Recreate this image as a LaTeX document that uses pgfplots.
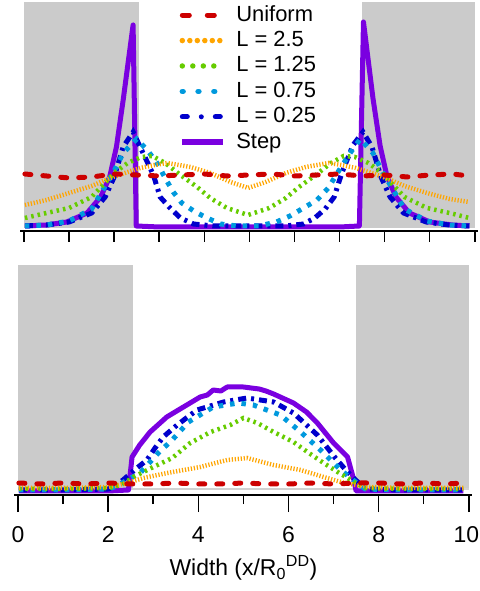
\documentclass[border=0pt]{standalone}
\usepackage{pgfplots}
\pgfplotsset{compat=1.18}
\usepackage{fontspec}
\setmainfont{Liberation Sans}
\definecolor{cUni}{HTML}{CC0000}
\definecolor{cLa}{HTML}{FFA500}
\definecolor{cLb}{HTML}{66CC00}
\definecolor{cLc}{HTML}{0099DD}
\definecolor{cLd}{HTML}{0000CC}
\definecolor{cStep}{HTML}{7A00E0}
\definecolor{shade}{HTML}{CBCBCB}

\pgfplotsset{
  uni/.style={cUni, line width=5bp, line cap=round, dash pattern=on 6bp off 12bp},
  lA/.style={cLa, line width=4.5bp, dash pattern=on 1.2bp off 1.8bp},
  lB/.style={cLb, line width=4.5bp, dash pattern=on 2.5bp off 4bp},
  lC/.style={cLc, line width=5bp, dash pattern=on 4.5bp off 7bp},
  lD/.style={cLd, line width=5bp, dash pattern=on 8bp off 5bp on 3bp off 5bp},
  stp/.style={cStep, line width=5bp, line join=round},
  base/.style={
    scale only axis, width=458bp,
    xmin=-0.08, xmax=10.08, ymin=0,
    axis x line*=bottom, axis y line=none,
    axis line style={-, line width=1.5bp},
    tick align=outside,
    tick style={line width=1.5bp, black},
    every tick label/.append style={font=\fontsize{23}{27}\selectfont},
    /pgf/number format/assume math mode=true,
    legend image code/.code={\draw[#1] (2bp,0bp) -- (43bp,0bp);},
  },
}

\begin{document}
\begin{tikzpicture}[x=1bp,y=1bp]
\useasboundingbox (0,0) rectangle (480,591);

% ---- top panel ----
\begin{axis}[base, at={(20.4bp,360bp)}, anchor=south west,
  height=231bp, ymax=231,
  xtick={0,...,10}, xticklabels={},
  major tick length=11bp,
  legend cell align=left,
  legend style={at={(0.34,0.987)}, anchor=north west, draw=none, fill=none,
    font=\fontsize{22}{26}\selectfont, row sep=5.4bp,
    nodes={inner sep=0bp, text height=16bp, text depth=4bp},
    column sep=10bp},
]
\addplot[fill=shade, draw=none, forget plot] coordinates {(0,3) (2.55,3) (2.55,229) (0,229)} -- cycle;
\addplot[fill=shade, draw=none, forget plot] coordinates {(7.5,3) (10,3) (10,229) (7.5,229)} -- cycle;

\addplot[stp, forget plot] coordinates {(0.02,5) (0.5,6) (0.95,9) (1.4,18) (1.7,34) (1.9,54) (2.05,84) (2.2,131) (2.42,206) (2.49,5) (3,4) (4,4) (5,4) (6,4) (7,4) (7.44,5) (7.53,209) (7.74,133) (7.9,85) (8.05,55) (8.25,34) (8.55,18) (9,9) (9.5,6) (9.88,5)};
\addplot[lD, forget plot] coordinates {(0.02,5) (0.5,6) (1,9) (1.5,18) (1.8,34) (2.0,54) (2.2,84) (2.42,99) (2.64,78) (2.87,56) (3.02,34) (3.24,23) (3.47,13) (3.76,7) (4.2,5) (5,5) (5.8,5) (6.2,7) (6.45,13) (6.68,22) (6.88,34) (7.05,58) (7.3,86) (7.52,99) (7.72,84) (7.92,54) (8.12,34) (8.42,18) (8.92,9) (9.42,6) (9.88,5)};
\addplot[lC, forget plot] coordinates {(0.02,5) (0.5,6) (1,10) (1.5,22) (2,60) (2.2,78) (2.5,92) (2.75,80) (2.98,66) (3.13,53) (3.31,39) (3.5,28) (3.8,19) (4.06,13) (4.36,7) (4.73,5) (5,5) (5.21,5) (5.6,9) (5.9,15) (6.2,23) (6.5,31) (6.75,43) (6.98,60) (7.25,79) (7.46,92) (7.74,78) (7.94,60) (8.44,22) (8.94,10) (9.44,6) (9.88,5)};
\addplot[lB, forget plot] coordinates {(0.02,13) (0.5,18) (1,23) (1.5,34) (2,58) (2.3,68) (2.6,74) (2.85,75) (3.13,68) (3.47,56) (3.84,44) (4.13,33) (4.5,23) (4.97,16) (5.44,23) (5.81,33) (6.1,44) (6.47,56) (6.81,68) (7.09,75) (7.34,74) (7.64,68) (7.94,58) (8.44,34) (8.94,23) (9.44,18) (9.88,13)};
\addplot[lA, forget plot] coordinates {(0.02,26) (0.5,31) (1,38) (1.5,45) (1.91,53) (2.3,59) (2.58,63) (2.9,66) (3.18,68) (3.69,64) (4.13,58) (4.58,49) (4.97,43) (5.36,49) (5.81,58) (6.25,64) (6.76,68) (7.04,66) (7.36,63) (7.64,59) (8.03,53) (8.44,45) (8.94,38) (9.44,32) (9.88,29)};
\addplot[uni, forget plot] coordinates {(0.02,57) (0.5,55) (1,53) (1.5,54) (2,57) (2.5,56) (3,55) (3.5,56) (4,57) (4.5,55) (5,56) (5.5,57) (6,55) (6.5,56) (7,57) (7.5,55) (8,56) (8.5,54) (9,56) (9.5,57) (9.88,55)};

\addlegendimage{cUni, line width=5bp, line cap=round, dash pattern=on 7bp off 18bp}
\addlegendentry{Uniform}
\addlegendimage{cLa, line width=5.5bp, line cap=round, dash pattern=on 0bp off 7.5bp}
\addlegendentry{L = 2.5}
\addlegendimage{cLb, line width=5.5bp, line cap=round, dash pattern=on 0bp off 10.5bp}
\addlegendentry{L = 1.25}
\addlegendimage{cLc, line width=5.5bp, line cap=round, dash pattern=on 0.8bp off 15bp}
\addlegendentry{L = 0.75}
\addlegendimage{cLd, line width=5bp, line cap=round, dash pattern=on 5bp off 14bp on 0bp off 14bp}
\addlegendentry{L = 0.25}
\addlegendimage{cStep, line width=6bp}
\addlegendentry{Step}
\end{axis}

% ---- bottom panel ----
\begin{axis}[base, at={(14.4bp,96bp)}, anchor=south west,
  height=232bp, ymax=232,
  xtick={0,2,...,10}, minor xtick={1,3,...,9},
  xticklabels={0,2,4,6,8,{\kern-5bp10}},
  major tick length=17bp, minor tick length=9bp,
  xticklabel style={yshift=-11bp},
  xlabel={Width (x/R\textsubscript{0}\textsuperscript{DD})},
  xlabel style={font=\fontsize{23}{27}\selectfont,
    at={(axis description cs:0.5,0)}, anchor=north, yshift=-57bp},
]
\addplot[fill=shade, draw=none] coordinates {(0,5) (2.55,5) (2.55,230) (0,230)} -- cycle;
\addplot[fill=shade, draw=none] coordinates {(7.5,5) (10,5) (10,230) (7.5,230)} -- cycle;
\addplot[color=black!18, line width=1.5bp] coordinates {(0,6) (10,6)};

\addplot[stp] coordinates {(0.02,4) (1,4) (2,4) (2.45,5) (2.53,38) (2.7,50) (2.93,63) (3.3,78) (3.67,88) (4.04,98) (4.2,100) (4.33,105) (4.5,104) (4.64,108) (5,108) (5.35,106) (5.5,104) (5.67,101) (6.11,92) (6.4,83) (6.64,72) (7.0,52) (7.31,38) (7.45,15) (7.5,4) (8,4) (9,4) (9.88,4)};
\addplot[lD] coordinates {(0.02,5) (1,5) (2,6) (2.11,8) (2.33,15) (2.64,27) (2.86,35) (3.04,47) (3.22,58) (3.53,70) (3.97,85) (4.56,93) (5.08,97) (5.67,93) (6.11,82) (6.64,60) (7.04,37) (7.27,25) (7.49,15) (7.7,6) (8.5,5) (9.88,5)};
\addplot[lC] coordinates {(0.02,5) (1,5) (2,6) (2.2,9) (2.42,15) (2.71,22) (3.11,42) (3.42,55) (3.78,73) (4.33,88) (4.89,92) (5.22,90) (5.82,80) (6.27,63) (6.71,45) (7.16,25) (7.49,13) (7.7,6) (8.5,5) (9.88,5)};
\addplot[lB] coordinates {(0.02,6) (1,6) (2,7) (2.3,10) (2.56,18) (3.0,28) (3.42,37) (3.82,52) (4.27,63) (4.71,70) (5.0,77) (5.31,72) (5.67,63) (6.11,53) (6.42,43) (6.78,32) (7.09,23) (7.31,17) (7.49,12) (7.7,7) (8.5,6) (9.88,6)};
\addplot[lA] coordinates {(0.02,7) (1,7) (2,8) (2.42,12) (2.78,17) (3.31,22) (4.04,28) (4.64,35) (5.08,37) (5.67,30) (6.27,25) (6.78,18) (7.16,13) (7.49,10) (7.8,8) (8.5,7) (9.88,7)};
\addplot[uni] coordinates {(0.02,12) (0.5,11) (1,12) (1.5,11) (2,12) (2.5,11) (3,11) (3.5,12) (4,11) (4.5,11) (5,12) (5.5,11) (6,11) (6.5,12) (7,11) (7.5,12) (8,12) (8.5,11) (9,12) (9.5,11) (9.88,12)};
\end{axis}
\end{tikzpicture}
\end{document}
